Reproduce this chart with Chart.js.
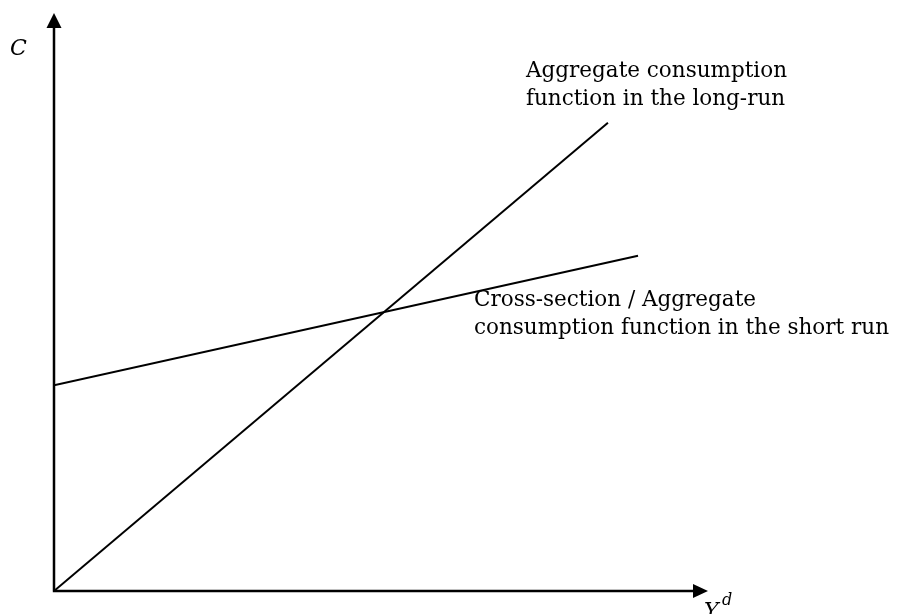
<!DOCTYPE html>
<html>
<head>
<meta charset="utf-8">
<script src="https://cdn.jsdelivr.net/npm/chart.js@4"></script>
<style>
  html, body { margin: 0; padding: 0; background: #fff; }
  #wrap { width: 898px; height: 614px; position: relative; }
</style>
</head>
<body>
<div id="wrap"><canvas id="grafico"></canvas></div>
<script>
// datos (unidades 0-100 en cada eje)
const largoX = [0, 84.7];
const largoY = [0, 81.0];
const cortoX = [0, 89.3];
const cortoY = [35.6, 58.0];

const etiquetaLargo = ['Aggregate consumption', 'function in the long-run'];
const etiquetaCorto = ['Cross-section / Aggregate', 'consumption function in the short run'];
const ejeY = 'C';
const ejeX = 'Y';
const ejeXsup = 'd';

const puntos = (xs, ys) => xs.map((x, i) => ({ x: x, y: ys[i] }));

const fuente = '"DejaVu Serif", serif';

// ejes con flechas y textos
const dibujos = {
    id: 'dibujos',
    afterDatasetsDraw(chart) {
        const ctx = chart.ctx;
        const sx = chart.scales.x, sy = chart.scales.y;
        const x0 = sx.getPixelForValue(0), y0 = sy.getPixelForValue(0);
        const xTop = sy.getPixelForValue(100), xEnd = sx.getPixelForValue(100);

        ctx.save();
        ctx.strokeStyle = '#000';
        ctx.fillStyle = '#000';
        ctx.lineWidth = 2.5;
        ctx.beginPath();
        ctx.moveTo(x0, y0);
        ctx.lineTo(x0, xTop + 12);
        ctx.moveTo(x0 - 1.2, y0);
        ctx.lineTo(xEnd - 12, y0);
        ctx.stroke();

        ctx.beginPath();
        ctx.moveTo(x0, xTop);
        ctx.lineTo(x0 - 7.5, xTop + 15);
        ctx.lineTo(x0 + 7.5, xTop + 15);
        ctx.closePath();
        ctx.fill();

        ctx.beginPath();
        ctx.moveTo(xEnd, y0);
        ctx.lineTo(xEnd - 15, y0 - 7);
        ctx.lineTo(xEnd - 15, y0 + 7);
        ctx.closePath();
        ctx.fill();

        ctx.textBaseline = 'alphabetic';
        ctx.font = '21.5px ' + fuente;
        ctx.fillText(etiquetaLargo[0], 526, 77);
        ctx.fillText(etiquetaLargo[1], 526, 105);
        ctx.fillText(etiquetaCorto[0], 474, 306);
        ctx.fillText(etiquetaCorto[1], 474, 334);

        ctx.font = 'italic 22px ' + fuente;
        ctx.fillText(ejeY, 10, 55);
        ctx.fillText(ejeX, 704, 618);
        ctx.font = 'italic 16px ' + fuente;
        ctx.fillText(ejeXsup, 722, 605);
        ctx.restore();
    }
};

const ctx = document.getElementById('grafico').getContext('2d');

const miGrafico = new Chart(ctx, {
    type: 'scatter',
    data: {
        datasets: [
            {
                data: puntos(largoX, largoY),
                showLine: true,
                borderColor: '#000',
                borderWidth: 2,
                pointRadius: 0
            },
            {
                data: puntos(cortoX, cortoY),
                showLine: true,
                borderColor: '#000',
                borderWidth: 2,
                pointRadius: 0
            }
        ]
    },
    options: {
        responsive: true,
        maintainAspectRatio: false,
        animation: false,
        layout: { padding: { left: 54, right: 190, top: 13, bottom: 23 } },
        plugins: {
            legend: { display: false },
            tooltip: { enabled: false }
        },
        scales: {
            x: { type: 'linear', min: 0, max: 100, display: false },
            y: { type: 'linear', min: 0, max: 100, display: false }
        }
    },
    plugins: [dibujos]
});
</script>
</body>
</html>
